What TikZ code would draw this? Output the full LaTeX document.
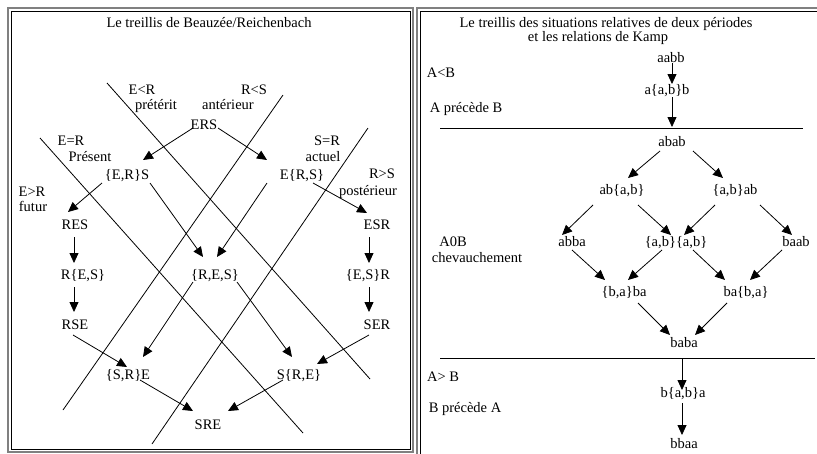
\documentclass[tikz,border=0pt]{standalone}
\usepackage{fontspec}
\setmainfont{Liberation Serif}
\usetikzlibrary{arrows.meta}
\tikzset{
  lbl/.style={font=\fontsize{14.5}{17}\selectfont, inner sep=0pt, text height=9.5pt, text depth=0pt, anchor=center},
  arr/.style={-{Triangle[length=10pt,width=9pt]}, line width=0.8pt},
  sepline/.style={line width=0.8pt},
  outerframe/.style={draw=gray, line width=2pt},
  innerframe/.style={draw=black, line width=1pt},
}
\begin{document}
\begin{tikzpicture}[x=1pt,y=-1pt]
\useasboundingbox (0,0) rectangle (817,453);
\clip (0,0) rectangle (817,453);
\fill[white] (0,0) rectangle (817,453);
% frames
\draw[outerframe] (8,8) rectangle (413,451.5);
\draw[innerframe] (11,11) rectangle (410,449);
\draw[outerframe] (417,8) rectangle (840,480);
\draw[innerframe] (420,11) rectangle (840,480);

% ---------- left panel ----------
\node[lbl] (titleL) at (209,23) {Le treillis de Beauzée/Reichenbach};
\node[lbl] (EltR) at (142,90) {E<R};
\node[lbl] (pret) at (156,105) {prétérit};
\node[lbl] (RltS) at (254,90) {R<S};
\node[lbl] (ant) at (228,105) {antérieur};
\node[lbl] (EeqR) at (71,141) {E=R};
\node[lbl] (pres) at (90,157) {Présent};
\node[lbl] (SeqR) at (327,141) {S=R};
\node[lbl] (act) at (323,157) {actuel};
\node[lbl] (RgtS) at (382,174) {R>S};
\node[lbl] (post) at (368,191) {postérieur};
\node[lbl] (EgtR) at (32,192) {E>R};
\node[lbl] (fut) at (33,207) {futur};

% long separating lines
\draw[sepline] (107,83) -- (370,379);
\draw[sepline] (40,138) -- (303,433);
\draw[sepline] (283,95) -- (63,410);
\draw[sepline] (368,128) -- (152,444);

\node[lbl] (ERS) at (204,125) {ERS};
\node[lbl] (ERpS) at (127,175) {\{E,R\}S};
\node[lbl] (EpRS) at (302,175) {E\{R,S\}};
\node[lbl] (RES) at (75,225) {RES};
\node[lbl] (ESR) at (377,225) {ESR};
\node[lbl] (RpES) at (83,275) {R\{E,S\}};
\node[lbl] (pRES) at (215,275) {\{R,E,S\}};
\node[lbl] (pESR) at (368,275) {\{E,S\}R};
\node[lbl] (RSE) at (75,325) {RSE};
\node[lbl] (SER) at (377,325) {SER};
\node[lbl] (pSRE) at (128,375) {\{S,R\}E};
\node[lbl] (SpRE) at (299,375) {S\{R,E\}};
\node[lbl] (SRE) at (208,425) {SRE};

\draw[arr] ([shift={(-11,3)}]ERS.center) -- ([shift={(16,-15)}]ERpS.center);
\draw[arr] ([shift={(14,3)}]ERS.center) -- ([shift={(-35,-15)}]EpRS.center);
\draw[arr] ([shift={(-25,8)}]ERpS.center) -- ([shift={(-7,-13)}]RES.center);
\draw[arr] ([shift={(23,8)}]ERpS.center) -- ([shift={(-12,-18)}]pRES.center);
\draw[arr] ([shift={(-35,8)}]EpRS.center) -- ([shift={(2,-18)}]pRES.center);
\draw[arr] ([shift={(11,8)}]EpRS.center) -- ([shift={(-10,-12)}]ESR.center);
\draw[arr] ([shift={(-1,12)}]RES.center) -- ([shift={(-9,-12)}]RpES.center);
\draw[arr] ([shift={(-8,12)}]ESR.center) -- ([shift={(1,-12)}]pESR.center);
\draw[arr] ([shift={(-9,12)}]RpES.center) -- ([shift={(-1,-13)}]RSE.center);
\draw[arr] ([shift={(1,12)}]pESR.center) -- ([shift={(-8,-13)}]SER.center);
\draw[arr] ([shift={(-2,10)}]RSE.center) -- ([shift={(-1,-8)}]pSRE.center);
\draw[arr] ([shift={(-22,7)}]pRES.center) -- ([shift={(15,-18)}]pSRE.center);
\draw[arr] ([shift={(22,7)}]pRES.center) -- ([shift={(-7,-18)}]SpRE.center);
\draw[arr] ([shift={(-8,10)}]SER.center) -- ([shift={(18,-11)}]SpRE.center);
\draw[arr] ([shift={(12,5)}]pSRE.center) -- ([shift={(-15,-14)}]SRE.center);
\draw[arr] ([shift={(-16,5)}]SpRE.center) -- ([shift={(20,-14)}]SRE.center);

% ---------- right panel ----------
\node[lbl] (titleR1) at (606,23) {Le treillis des situations relatives de deux périodes};
\node[lbl] (titleR2) at (598,37) {et les relations de Kamp};
\node[lbl] (AltB) at (441,73) {A<B};
\node[lbl] (Aprec) at (466,108) {A précède B};
\node[lbl] (A0B) at (453,242) {A0B};
\node[lbl] (chev) at (477,258) {chevauchement};
\node[lbl] (AgtB) at (443,377) {A> B};
\node[lbl] (Bprec) at (465,408) {B précède A};

\draw[sepline] (440,128) -- (803,128);
\draw[sepline] (440,358) -- (815,358);

\node[lbl] (aabb) at (671,58) {aabb};
\node[lbl] (aabpb) at (667,90) {a\{a,b\}b};
\node[lbl] (abab) at (672,142) {abab};
\node[lbl] (abpab) at (622,190) {ab\{a,b\}};
\node[lbl] (pabab) at (735,190) {\{a,b\}ab};
\node[lbl] (abba) at (572,242) {abba};
\node[lbl] (pabpab) at (676,242) {\{a,b\}\{a,b\}};
\node[lbl] (baab) at (796,242) {baab};
\node[lbl] (pbaba) at (624,292) {\{b,a\}ba};
\node[lbl] (bapba) at (746,292) {ba\{b,a\}};
\node[lbl] (baba) at (684,343) {baba};
\node[lbl] (bpabpa) at (683,393) {b\{a,b\}a};
\node[lbl] (bbaa) at (684,444) {bbaa};

\draw[arr] ([shift={(1,5)}]aabb.center) -- ([shift={(5,-6)}]aabpb.center);
\draw[arr] ([shift={(5,7)}]aabpb.center) -- ([shift={(0,-15)}]abab.center);
\draw[arr] ([shift={(-12,9)}]abab.center) -- ([shift={(6,-12)}]abpab.center);
\draw[arr] ([shift={(21,9)}]abab.center) -- ([shift={(-12,-12)}]pabab.center);
\draw[arr] ([shift={(-29,15)}]abpab.center) -- ([shift={(-10,-7)}]abba.center);
\draw[arr] ([shift={(16,15)}]abpab.center) -- ([shift={(-5,-7)}]pabpab.center);
\draw[arr] ([shift={(-20,15)}]pabab.center) -- ([shift={(8,-7)}]pabpab.center);
\draw[arr] ([shift={(25,15)}]pabab.center) -- ([shift={(-4,-7)}]baab.center);
\draw[arr] ([shift={(0,8)}]abba.center) -- ([shift={(-19,-12)}]pbaba.center);
\draw[arr] ([shift={(-14,8)}]pabpab.center) -- ([shift={(4,-12)}]pbaba.center);
\draw[arr] ([shift={(17,8)}]pabpab.center) -- ([shift={(-21,-12)}]bapba.center);
\draw[arr] ([shift={(-14,8)}]baab.center) -- ([shift={(4,-12)}]bapba.center);
\draw[arr] ([shift={(14,11)}]pbaba.center) -- ([shift={(-14,-8)}]baba.center);
\draw[arr] ([shift={(-19,11)}]bapba.center) -- ([shift={(11,-8)}]baba.center);
\draw[arr] ([shift={(-2,15)}]baba.center) -- ([shift={(-1,-3)}]bpabpa.center);
\draw[arr] ([shift={(-1,10)}]bpabpa.center) -- ([shift={(-2,-9)}]bbaa.center);
\end{tikzpicture}
\end{document}
